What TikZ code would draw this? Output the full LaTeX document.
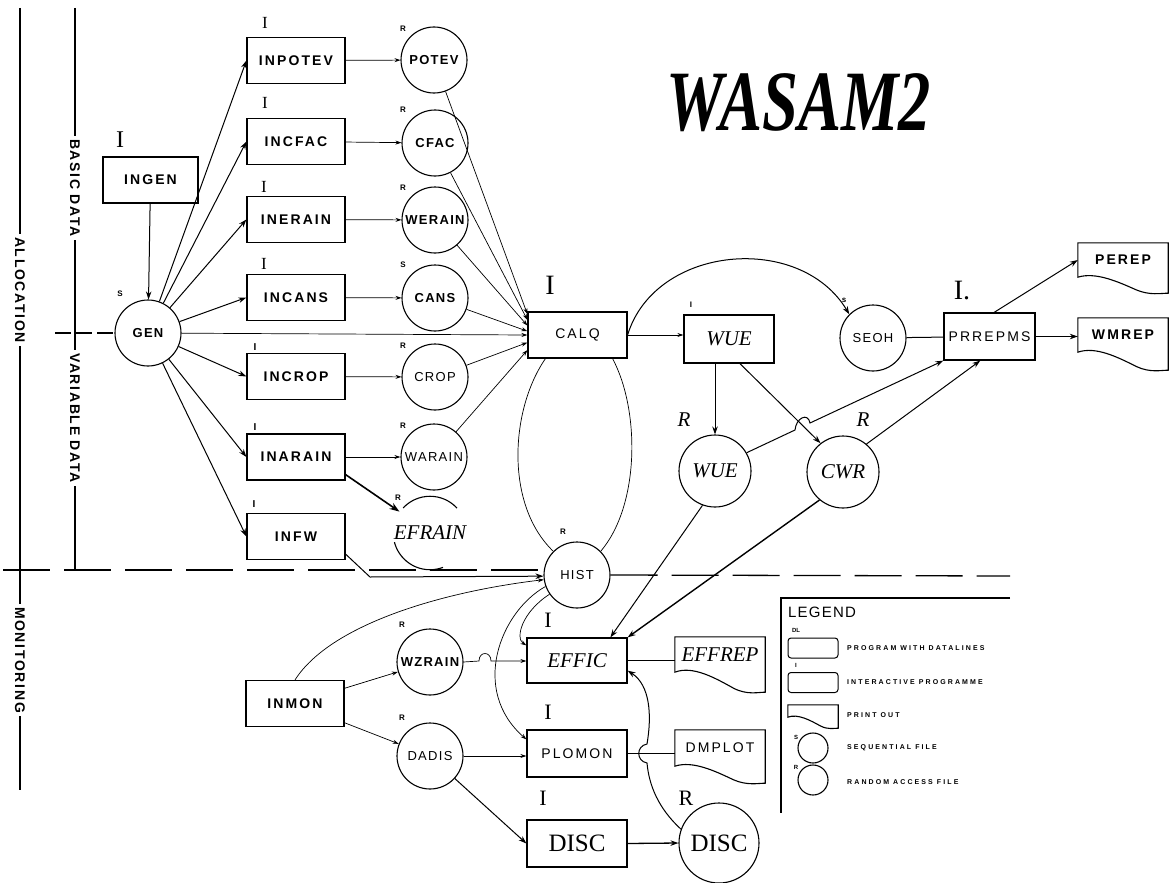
\documentclass[tikz,border=0pt]{standalone}
\usepackage{fontspec}
\setmainfont{Liberation Serif}
\setsansfont{Liberation Sans}
\newfontfamily\boxf[LetterSpace=15]{Liberation Sans}
\newfontfamily\circf[LetterSpace=10]{Liberation Sans}
\newfontfamily\legf[LetterSpace=30]{Liberation Sans}
\newfontfamily\legtf[LetterSpace=8]{Liberation Sans}
\newfontfamily\sidef[LetterSpace=12]{Liberation Sans}
\usetikzlibrary{arrows.meta,calc}
\newcommand\prshape[2]{%
 \draw[line width=1.1pt] (#1.north west) -- (#1.south west)
 .. controls ($(#1.south west)!0.2!(#1.south east)+(0,-0.35*#2)$) and ($(#1.south west)!0.45!(#1.south east)+(0,0.3*#2)$)
 .. ($(#1.south west)!0.65!(#1.south east)+(0,0.8*#2)$)
 .. controls ($(#1.south west)!0.8!(#1.south east)+(0,1.15*#2)$) and ($(#1.south west)!0.92!(#1.south east)+(0,1.0*#2)$)
 .. ($(#1.south east)+(0,#2)$) -- (#1.north east) -- cycle;}
\tikzset{
 pbox/.style={draw, line width=1.2pt, rectangle, minimum width=98pt, minimum height=46pt, inner sep=0pt, font=\boxf\bfseries\fontsize{14}{14}\selectfont},
 lbox/.style={pbox, font=\boxf\fontsize{14}{14}\selectfont},
 ibox/.style={pbox, font=\rmfamily\itshape\fontsize{21}{21}\selectfont},
 sbox/.style={pbox, font=\rmfamily\fontsize{25}{25}\selectfont},
 fcirc/.style={draw, circle, line width=1.1pt, minimum size=66pt, inner sep=0pt, font=\circf\bfseries\fontsize{13}{13}\selectfont},
 lfile/.style={fcirc, font=\circf\fontsize{13}{13}\selectfont},
 ifile/.style={fcirc, font=\rmfamily\itshape\fontsize{21}{21}\selectfont},
 pout/.style={rectangle, inner sep=0pt, minimum width=90pt, minimum height=35pt, font=\boxf\bfseries\fontsize{14}{14}\selectfont},
 smtag/.style={font=\sffamily\bfseries\fontsize{8}{8}\selectfont, inner sep=0pt},
 romlab/.style={font=\rmfamily\fontsize{22}{22}\selectfont, inner sep=0pt},
 itlab/.style={font=\rmfamily\itshape\fontsize{21}{21}\selectfont, inner sep=0pt},
 sidelab/.style={font=\sidef\bfseries\fontsize{14}{14}\selectfont, rotate=-90, inner sep=3pt},
 legtxt/.style={font=\legf\bfseries\fontsize{7}{7}\selectfont, inner sep=0pt, anchor=west},
 con/.style={line width=1pt},
 arr/.style={con, -{Stealth[length=8pt,width=5.5pt]}},
 tcon/.style={line width=0.7pt},
 tarr/.style={tcon, -{Stealth[length=6pt,width=4pt]}},
 sepline/.style={line width=1.3pt, dash pattern=on 47pt off 14pt},
}
\begin{document}
\begin{tikzpicture}[x=1pt,y=-1pt]
\useasboundingbox (0,0) rectangle (1170,883);
\fill[white] (0,0) rectangle (1170,883);

% title
\node[inner sep=0pt] (title) at (799,103) {\scalebox{0.75}[1]{\fontsize{86}{86}\selectfont\bfseries\itshape WASAM2}};

% side labels
\node[sidelab] (alloc) at (20,290) {ALLOCATION};
\node[sidelab] (monit) at (20,660) {MONITORING};
\node[sidelab] (basic) at (75,188) {BASIC DATA};
\node[sidelab] (vardat) at (75,418) {VARIABLE DATA};
\coordinate (a0) at (20,8);
\coordinate (a1) at (20,790);
\coordinate (b0) at (75,8);
\coordinate (b1) at (75,570);
\draw[line width=1.3pt] (a0) -- (alloc.west);
\draw[line width=1.3pt] (alloc.east) -- (monit.west);
\draw[line width=1.3pt] (monit.east) -- (a1);
\draw[line width=1.3pt] (b0) -- (basic.west);
\draw[line width=1.3pt] (basic.east) -- (vardat.west);
\draw[line width=1.3pt] (vardat.east) -- (b1);

% nodes
\node[pbox, minimum width=95pt] (ingen) at (150.5,180) {INGEN};
\node[fcirc] (gen) at (148,333) {GEN};
\node[pbox] (inpotev) at (296,60.5) {INPOTEV};
\node[fcirc] (potev) at (434,60) {POTEV};
\node[pbox] (incfac) at (296,141.5) {INCFAC};
\node[fcirc] (cfac) at (435,143) {CFAC};
\node[pbox] (inerain) at (296,219.5) {INERAIN};
\node[fcirc] (werain) at (435,220) {WERAIN};
\node[pbox] (incans) at (296,297.5) {INCANS};
\node[fcirc] (cans) at (435,298) {CANS};
\node[pbox] (incrop) at (296,376.5) {INCROP};
\node[lfile] (crop) at (435,377) {CROP};
\node[pbox] (inarain) at (296,457) {INARAIN};
\node[lfile] (warain) at (434,457) {WARAIN};
\node[ifile, minimum size=68pt, dash pattern=on 60.5pt off 36.8pt on 61.7pt off 54.6pt, dash phase=186.3pt] (efrain) at (430,533) {EFRAIN};
\node[pbox] (infw) at (296,536.5) {INFW};
\node[lbox, minimum width=99pt] (calq) at (577.5,335) {CALQ};
\node[ibox, minimum width=90pt, minimum height=48pt] (wuebox) at (729,339) {WUE};
\node[lfile] (seoh) at (873,338) {SEOH};
\node[lbox, minimum width=91pt, minimum height=47pt] (prrepms) at (989.5,336.5) {PRREPMS};
\node[pout, minimum height=34pt] (perep) at (1123,260) {PEREP};
\node[pout, minimum height=34pt] (wmrep) at (1123,335) {WMREP};
\node[ifile, minimum size=72pt] (wuec) at (715,471) {WUE};
\node[ifile, minimum size=72pt] (cwr) at (843,472) {CWR};
\node[lfile] (hist) at (577,575) {HIST};
\node[ibox, minimum width=100pt, minimum height=45pt] (effic) at (577,660.5) {EFFIC};
\node[pout, font=\rmfamily\itshape\fontsize{21}{21}\selectfont] (effrep) at (720,654.5) {EFFREP};
\node[lbox, minimum width=100pt, minimum height=47pt] (plomon) at (577,753.5) {PLOMON};
\node[pout, minimum height=36pt, font=\boxf\fontsize{14}{14}\selectfont] (dmplot) at (720,748) {DMPLOT};
\node[sbox, minimum width=100pt, minimum height=47pt] (discbox) at (577,843.5) {DISC};
\node[fcirc, minimum size=80pt, font=\rmfamily\fontsize{25}{25}\selectfont] (discc) at (719,843) {DISC};
\node[pbox] (inmon) at (295,703.5) {INMON};
\node[fcirc] (wzrain) at (430,662) {WZRAIN};
\node[lfile] (dadis) at (430,756) {DADIS};

\prshape{perep}{16}
\prshape{wmrep}{18}
\prshape{effrep}{20}
\prshape{dmplot}{17}

% labels
\node[romlab, font=\rmfamily\fontsize{24}{24}\selectfont] (t1) at (120,140) {I};
\node[romlab, font=\rmfamily\fontsize{17}{17}\selectfont] (t2) at (265,23) {I};
\node[romlab, font=\rmfamily\fontsize{17}{17}\selectfont] (t3) at (265,103) {I};
\node[romlab, font=\rmfamily\fontsize{17}{17}\selectfont] (t4) at (264,187) {I};
\node[romlab, font=\rmfamily\fontsize{17}{17}\selectfont] (t5) at (264,264) {I};
\node[smtag, font=\sffamily\bfseries\fontsize{10}{10}\selectfont] (t6) at (255,347) {I};
\node[smtag, font=\sffamily\bfseries\fontsize{10}{10}\selectfont] (t7) at (255,427) {I};
\node[smtag, font=\sffamily\bfseries\fontsize{10}{10}\selectfont] (t8) at (254,504) {I};
\node[smtag] (s1) at (120,294) {S};
\node[smtag] (s2) at (403,29) {R};
\node[smtag] (s3) at (403,110) {R};
\node[smtag] (s4) at (403,188) {R};
\node[smtag] (s5) at (403,265) {S};
\node[smtag] (s6) at (403,346) {R};
\node[smtag] (s7) at (403,426) {R};
\node[smtag] (s8) at (398,498) {R};
\node[smtag] (s9) at (563,532) {R};
\node[smtag] (s10) at (402,625) {R};
\node[smtag] (s11) at (402,718) {R};
\node[smtag] (s12) at (844,300) {s};
\node[smtag] (s13) at (691,305) {I};
\node[romlab, font=\rmfamily\fontsize{28}{28}\selectfont] (t9) at (550,285) {I};
\node[romlab, font=\rmfamily\fontsize{28}{28}\selectfont] (t10) at (962,291) {I.};
\node[itlab] (t11) at (684,420) {R};
\node[itlab] (t12) at (863,420) {R};
\node[romlab] (t13) at (548,620) {I};
\node[romlab] (t14) at (548,712) {I};
\node[romlab] (t15) at (543,798) {I};
\node[romlab] (t16) at (686,798) {R};

% separators
\coordinate (lm) at (55,333);
\coordinate (sL) at (3,570);
\coordinate (sR) at (1010,576);
\draw[line width=1.2pt, dash pattern=on 16pt off 5pt] (lm) -- (gen.west);
\draw[sepline] (sL) -- (sL -| hist.west);
\draw[sepline] (hist.east) -- (sR);

% GEN fan
\draw[arr] (ingen) -- (gen);
\foreach \b in {inpotev,incfac,inerain,incans,incrop,inarain,infw}
  \draw[arr] (gen) -- (\b.west);
\draw[tarr] (inpotev) -- (potev);
\draw[tarr] (incfac) -- (cfac);
\draw[tarr] (inerain) -- (werain);
\draw[tarr] (incans) -- (cans);
\draw[tarr] (incrop) -- (crop);
\draw[tarr] (inarain) -- (warain);
\draw[line width=1.6pt, -{Stealth[length=10pt,width=7pt]}] ($(inarain.south east)+(0,-6)$) -- (efrain.145);

% into CALQ
\draw[tarr] (potev) -- ($(calq.north west)!0.06!(calq.south west)$);
\draw[tarr] (cfac) -- ($(calq.north west)!0.18!(calq.south west)$);
\draw[tarr] (werain) -- ($(calq.north west)!0.3!(calq.south west)$);
\draw[tarr] (cans) -- ($(calq.north west)!0.42!(calq.south west)$);
\draw[tarr] (gen) -- (calq.west);
\draw[tarr] (crop) -- ($(calq.north west)!0.66!(calq.south west)$);
\draw[tarr] (warain) -- ($(calq.north west)!0.82!(calq.south west)$);

% CALQ outputs
\draw[tarr] (calq.east) -- (wuebox.west |- calq.east);
\draw[arr] (calq.east) .. controls (655,245) and (800,232) .. (seoh.135);
\draw[tcon] ($(calq.south west)!0.18!(calq.south east)$) .. controls (510,410) and (505,505) .. (hist.135);
\draw[tcon] ($(calq.south west)!0.85!(calq.south east)$) .. controls (640,410) and (640,505) .. (hist.45);

% WUE block
\draw[arr] (wuec.north |- wuebox.south) -- (wuec.north);
\draw[arr] ($(wuebox.south west)!0.62!(wuebox.south east)$) -- (cwr.128);
\coordinate (h5) at (795,430);
\coordinate (h6) at (810,423);
\draw[arr] (wuec.30) -- (h5) .. controls (796,418) and (808,412) .. (h6) -- (prrepms.south west);
\draw[arr] (cwr.50) -- ($(prrepms.south west)!0.4!(prrepms.south east)$);
\draw[con] (seoh) -- (prrepms);
\draw[arr] ($(prrepms.north west)!0.55!(prrepms.north east)$) -- (perep.west);
\draw[arr] (prrepms.east) -- (wmrep.west |- prrepms.east);
\draw[arr] (wuec.250) -- ($(effic.north west)!0.83!(effic.north east)$);
\draw[arr, line width=1.4pt] (cwr.230) -- (effic.north east);

% HIST
\coordinate (fw1) at (370,577);
\draw[arr] ($(infw.south east)+(0,-6)$) -- (fw1) -- (hist.182);
\draw[tarr] (inmon.north) .. controls (330,625) and (440,592) .. (hist.188);
\draw[tarr] (hist.215) .. controls (522,612) and (515,638) .. ($(effic.north west)+(0,8)$);
\draw[tarr] (hist.200) .. controls (500,612) and (470,690) .. ($(plomon.north west)+(0,10)$);

% monitoring
\draw[tarr] (inmon) -- (wzrain);
\draw[tarr] (inmon) -- (dadis);
\coordinate (h1) at (479,661);
\coordinate (h2) at (491,661);
\draw[tarr] (wzrain.east) -- (h1) .. controls (479,651) and (491,651) .. (h2) -- (effic.west |- h2);
\draw[tarr] (dadis.east) -- (plomon.west |- dadis.east);
\draw[con] (effic.east) -- (effrep.west |- effic.east);
\draw[tcon] (plomon.east) -- (dmplot.west |- plomon.east);
\draw[arr] (dadis) -- (discbox.west);
\draw[arr, line width=1.3pt] (discbox.east) -- (discc.west);
\coordinate (h3) at (647,763);
\coordinate (h4) at (647,744);
\draw[arr] (discc.160) .. controls (658,808) and (649,785) .. (h3) .. controls (636,761) and (636,746) .. (h4) .. controls (652,715) and (650,685) .. ($(effic.south east)+(0,-13)$);

% legend
\coordinate (lgA) at (1010,598);
\coordinate (lgB) at (781,598);
\coordinate (lgC) at (781,813);
\draw[line width=1.2pt] (lgA) -- (lgB) -- (lgC);
\node[inner sep=0pt, anchor=west, font=\legtf\fontsize{15}{15}\selectfont] (lgt) at (788,612) {LEGEND};
\node[smtag, font=\sffamily\bfseries\fontsize{6}{6}\selectfont] (lt1) at (796,630) {DL};
\node[draw, rounded corners=3pt, line width=1pt, minimum width=50pt, minimum height=20pt, inner sep=0pt] (lg1) at (813,648) {};
\node[smtag, font=\sffamily\bfseries\fontsize{6}{6}\selectfont] (lt2) at (796,665) {I};
\node[draw, rounded corners=3pt, line width=1pt, minimum width=50pt, minimum height=20pt, inner sep=0pt] (lg2) at (813,682.5) {};
\node[minimum width=50pt, minimum height=12pt, inner sep=0pt] (lg3) at (813,711) {};
\prshape{lg3}{11}
\node[smtag, font=\sffamily\bfseries\fontsize{6}{6}\selectfont] (lt4) at (796,737) {S};
\node[fcirc, minimum size=30pt] (lg4) at (813,748) {};
\node[smtag, font=\sffamily\bfseries\fontsize{6}{6}\selectfont] (lt5) at (796,767) {R};
\node[fcirc, minimum size=30pt] (lg5) at (813,780) {};
\node[legtxt] (lx1) at (847,648) {PROGRAM WITH DATALINES};
\node[legtxt] (lx2) at (847,682) {INTERACTIVE PROGRAMME};
\node[legtxt] (lx3) at (847,715) {PRINT OUT};
\node[legtxt] (lx4) at (847,748) {SEQUENTIAL FILE};
\node[legtxt] (lx5) at (847,782) {RANDOM ACCESS FILE};
\end{tikzpicture}
\end{document}
